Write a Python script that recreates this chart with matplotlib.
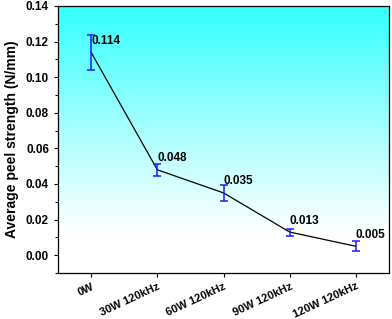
import numpy as np
import matplotlib
matplotlib.use("Agg")
import matplotlib.pyplot as plt
from matplotlib import font_manager
from matplotlib.colors import LinearSegmentedColormap
from matplotlib.ticker import MultipleLocator

# data
labels = ["0W", "30W 120kHz", "60W 120kHz", "90W 120kHz", "120W 120kHz"]
strength = [0.114, 0.048, 0.035, 0.013, 0.005]
errors = [0.0097, 0.0035, 0.0045, 0.002, 0.0027]
value_text = ["0.114", "0.048", "0.035", "0.013", "0.005"]

# pick the regular-width Liberation Sans Bold file explicitly
bold_file = None
for f in font_manager.fontManager.ttflist:
    if f.name == "Liberation Sans" and f.weight in (700, "bold") and f.style == "normal" \
            and "Narrow" not in f.fname:
        bold_file = f.fname
        break
if bold_file:
    fp = lambda s: font_manager.FontProperties(fname=bold_file, size=s)
else:
    fp = lambda s: font_manager.FontProperties(family="DejaVu Sans", weight="bold", size=s)

fig = plt.figure(figsize=(3.92, 3.19), dpi=100)
ax = fig.add_axes([58 / 392, 1 - 273 / 319, 331 / 392, 267 / 319])

x = np.arange(len(labels))
ax.set_xlim(-0.5, 4.5)
ax.set_ylim(-0.01, 0.14)

# cyan-to-white background gradient
cmap = LinearSegmentedColormap.from_list(
    "bg", [(0, "#ffffff"), (0.15, "#ffffff"), (0.5, "#b0ffff"), (1, "#33ffff")])
grad = np.linspace(0, 1, 256).reshape(-1, 1)
ax.imshow(grad, cmap=cmap, aspect="auto", origin="lower",
          extent=[-0.5, 4.5, -0.01, 0.14], zorder=0)

ax.plot(x, strength, color="black", lw=0.9, zorder=2)
ax.errorbar(x, strength, yerr=errors, fmt="none", ecolor="#1a1aff",
            elinewidth=1.1, capsize=3, capthick=1.1, zorder=3)

for xi, yi, t in zip(x, strength, value_text):
    ax.annotate(t, (xi, yi), xytext=(0, 4), textcoords="offset points",
                ha="left", va="bottom", fontproperties=fp(8.5))

ax.set_xticks(x)
ax.set_xticklabels(labels, rotation=25, ha="right", rotation_mode="anchor",
                   fontproperties=fp(8))
ax.yaxis.set_minor_locator(MultipleLocator(0.01))
yt = np.arange(0, 0.141, 0.02)
ax.set_yticks(yt)
ax.set_yticklabels(["%.2f" % v for v in yt], fontproperties=fp(8.5))
ax.tick_params(direction="out", length=3, width=0.8)
ax.tick_params(which="minor", direction="out", length=2, width=0.8)
ax.tick_params(axis="x", pad=3)
ax.set_ylabel("Average peel strength (N/mm)", fontproperties=fp(10), labelpad=5)
for s in ax.spines.values():
    s.set_linewidth(0.9)

fig.savefig("out.png", dpi=100)
